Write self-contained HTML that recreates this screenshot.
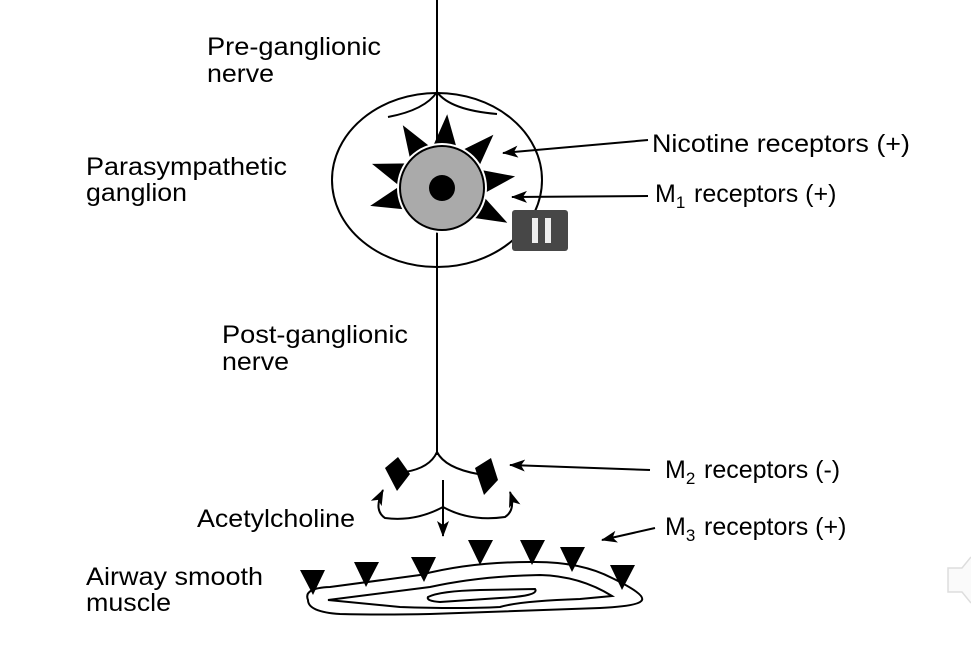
<!DOCTYPE html>
<html><head><style>html,body{margin:0;padding:0;background:#fff;}svg{display:block}</style></head>
<body>
<svg width="971" height="646" viewBox="0 0 971 646" xmlns="http://www.w3.org/2000/svg" font-family="Liberation Sans, Arial, sans-serif" font-size="25" fill="#000">
<defs><marker id="ah" markerWidth="16" markerHeight="12" refX="15" refY="6" orient="auto" markerUnits="userSpaceOnUse"><path d="M0,0 L16,6 L0,12 L4,6 Z" fill="#000"/></marker></defs>
<g stroke="#000" stroke-width="2" fill="none">
<line x1="437" y1="0" x2="437" y2="145"/>
<line x1="437" y1="230" x2="437" y2="455"/>
<ellipse cx="437" cy="180" rx="105" ry="87"/>
<path d="M388,117 Q425,110 437,92 Q450,110 497,114"/>
<path d="M437,452 Q430,468 405,472"/>
<path d="M437,452 Q445,468 478,474"/>
<line x1="443" y1="480" x2="443" y2="536" marker-end="url(#ah)"/>
<path d="M443,507 Q415,522 385,518 Q373,510 383,490" marker-end="url(#ah)"/>
<path d="M443,507 Q470,522 505,517 Q516,510 510,492" marker-end="url(#ah)"/>
<line x1="648" y1="140" x2="503" y2="153" marker-end="url(#ah)"/>
<line x1="648" y1="196" x2="512" y2="197" marker-end="url(#ah)"/>
<line x1="650" y1="470" x2="510" y2="465" marker-end="url(#ah)"/>
<line x1="655" y1="528" x2="602" y2="540" marker-end="url(#ah)"/>
<path d="M308,600 Q303,588 330,587 L420,575 Q470,562 530,562 Q580,561 612,578 Q645,594 642,600 Q640,606 600,608 L430,614 Q380,615 340,614 Q308,612 308,600 Z"/>
<path d="M328,600 L430,587 Q480,576 540,575 Q580,576 612,596 L580,599 Q520,601 500,607 Q460,609 400,607 Z"/>
<path d="M428,597 Q440,591 480,590 L535,589 Q540,596 500,598 L440,602 Q426,601 428,597 Z"/>
</g>
<g id="spikes"></g>
<circle cx="442" cy="188" r="45" fill="#fff"/>
<circle cx="442" cy="188" r="42" fill="#aaa" stroke="#000" stroke-width="2"/>
<circle cx="442" cy="188" r="13" fill="#000"/>
<polygon points="385,468 398,457 410,474 397,491" fill="#000"/>
<polygon points="475,468 491,458 498,480 484,495" fill="#000"/>
<g fill="#000">
<polygon points="300,570 325,570 313,595"/>
<polygon points="354,562 379,562 366,587"/>
<polygon points="411,557 436,557 424,582"/>
<polygon points="468,540 493,540 480,565"/>
<polygon points="520,540 545,540 532,565"/>
<polygon points="560,547 585,547 572,572"/>
<polygon points="610,565 635,565 622,590"/>
</g>
<rect x="512" y="210" width="56" height="41" rx="3" fill="#474747"/>
<rect x="532" y="218" width="6" height="25" fill="#eee"/>
<rect x="545" y="218" width="6" height="25" fill="#eee"/>
<path d="M971,557 L962,568 L948,568 L948,592 L962,592 L971,603" fill="#fafafa" stroke="#ddd" stroke-width="1.5"/>
<text x="207" y="55" textLength="174" lengthAdjust="spacingAndGlyphs">Pre-ganglionic</text>
<text x="207" y="82" textLength="67" lengthAdjust="spacingAndGlyphs">nerve</text>
<text x="86" y="175" textLength="201" lengthAdjust="spacingAndGlyphs">Parasympathetic</text>
<text x="86" y="201" textLength="101" lengthAdjust="spacingAndGlyphs">ganglion</text>
<text x="652" y="152" textLength="258" lengthAdjust="spacingAndGlyphs">Nicotine receptors (+)</text>
<text x="655" y="202">M<tspan font-size="17" dy="6">1</tspan><tspan dy="-6" x="694">receptors (+)</tspan></text>
<text x="222" y="343" textLength="186" lengthAdjust="spacingAndGlyphs">Post-ganglionic</text>
<text x="222" y="370" textLength="67" lengthAdjust="spacingAndGlyphs">nerve</text>
<text x="665" y="478">M<tspan font-size="17" dy="6">2</tspan><tspan dy="-6" x="704">receptors (-)</tspan></text>
<text x="197" y="527" textLength="158" lengthAdjust="spacingAndGlyphs">Acetylcholine</text>
<text x="665" y="535">M<tspan font-size="17" dy="6">3</tspan><tspan dy="-6" x="704">receptors (+)</tspan></text>
<text x="86" y="585" textLength="177" lengthAdjust="spacingAndGlyphs">Airway smooth</text>
<text x="86" y="611" textLength="85" lengthAdjust="spacingAndGlyphs">muscle</text>
</svg>
<script>
var g=document.getElementById('spikes'),cx=442,cy=188,s='';
[-86,-122,-46,-161,-9,166,28].forEach(function(a){
 var r=Math.PI/180;function p(ang,rad){return (cx+rad*Math.cos(ang*r)).toFixed(1)+','+(cy+rad*Math.sin(ang*r)).toFixed(1);}
 s+='<polygon points="'+p(a-19,40)+' '+p(a,74)+' '+p(a+19,40)+'" fill="#000"/>';
});
g.innerHTML=s;
</script>
</body></html>
